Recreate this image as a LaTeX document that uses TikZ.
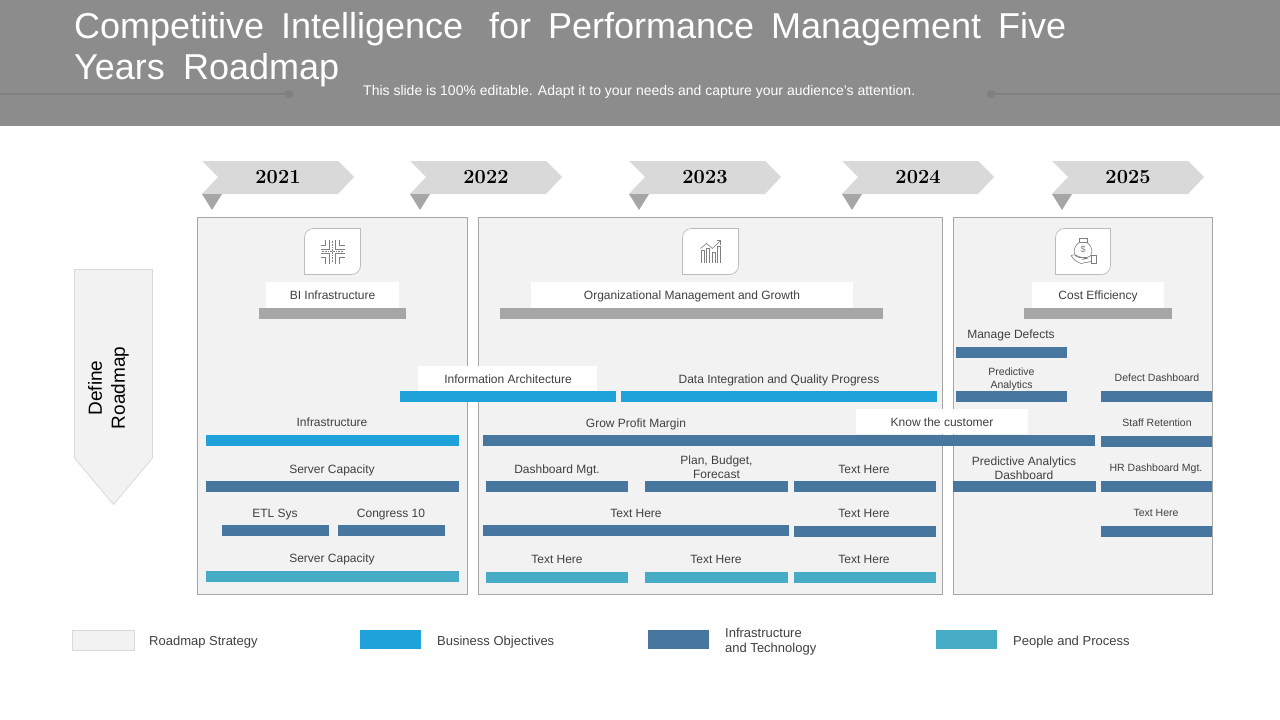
\documentclass[tikz,border=0pt]{standalone}
\usepackage{fontspec}
\setmainfont{Liberation Sans}
\definecolor{hdr}{HTML}{8C8C8C}
\definecolor{hline}{HTML}{808080}
\definecolor{panel}{HTML}{F2F2F2}
\definecolor{edge}{HTML}{A6A6A6}
\definecolor{chev}{HTML}{D9D9D9}
\definecolor{blue1}{HTML}{1FA2D9}
\definecolor{blue2}{HTML}{47769F}
\definecolor{teal1}{HTML}{46ABC4}
\definecolor{txt}{HTML}{404040}
\definecolor{ico}{HTML}{808080}
\tikzset{
  boxr/.style={rectangle,inner sep=0pt,outer sep=0pt},
  lab/.style={text=txt,font=\fontsize{12}{14}\selectfont,align=center,inner sep=0pt,yshift=-1.3pt,
    execute at begin node={\vphantom{Hg}},execute at end node={\vphantom{Hg}}},
  labs/.style={lab,font=\fontsize{10.5}{13}\selectfont,yshift=0.15pt},
  legendlab/.style={lab,font=\fontsize{13}{15}\selectfont,anchor=west,align=left},
  icoline/.style={draw=ico,line width=.6pt},
}
% name, fill, x1, x2, y1, y2, extra options
\newcommand{\rbox}[7]{\node[boxr,fill=#2,#7,minimum width={(#4-#3)*1pt},minimum height={(#6-#5)*1pt}] (#1) at ({(#3+#4)/2},{(#5+#6)/2}) {};}
% icon tile: name, x1, x2 (round diagonal corners)
\newcommand{\tile}[3]{%
  \draw[draw=edge!75,fill=white,line width=.7pt] (#2,274.5) [rounded corners=9pt] -- (#2,228.5) [sharp corners] -- (#3,228.5) [rounded corners=9pt] -- (#3,274.5) [sharp corners] -- cycle;
  \node[boxr,minimum width={(#3-#2)*1pt},minimum height=46pt] (#1) at ({(#2+#3)/2},251.5) {};}
\newcommand{\chevron}[2]{%
  \fill[chev] (#1,161) -- ++(136,0) -- ++(16,16) -- ++(-16,17) -- ++(-136,0) -- ++(16,-17) -- cycle;
  \fill[edge] (#1,194) -- ++(20,0) -- ++(-10,16) -- cycle;
  \node[inner sep=0pt] (y#2) at (#1+76,177) {\setmainfont{Latin Modern Roman}\bfseries\fontsize{20}{22}\selectfont #2};}
\begin{document}
\begin{tikzpicture}[x=1pt,y=-1pt]
\useasboundingbox (0,0) rectangle (1280,720);
\fill[white] (0,0) rectangle (1280,720);
% header
\rbox{head}{hdr}{0}{1280}{0}{126}{}
\draw[hline,line width=1.5pt] (0,94) -- (289,94);
\fill[hline] (289,94) circle (4);
\draw[hline,line width=1.5pt] (991,94) -- (1280,94);
\fill[hline] (991,94) circle (4);
\node[anchor=base west,inner sep=0pt,text=white,font=\fontsize{36}{40}\selectfont] (t1) at (74,38) {\makebox[992pt][s]{Competitive Intelligence\hspace{9pt} for Performance Management Five}};
\node[anchor=base west,inner sep=0pt,text=white,font=\fontsize{36}{40}\selectfont] (t2) at (74,79) {\makebox[265pt][s]{Years Roadmap}};
\node[anchor=west,inner sep=0pt,text=white,font=\fontsize{14}{16}\selectfont] (sub) at (363,91.5) {This slide is 100\% editable. Adapt it to your needs and capture your audience's attention.};
% chevrons
\chevron{202}{2021}
\chevron{410}{2022}
\chevron{629}{2023}
\chevron{842}{2024}
\chevron{1052}{2025}
% arrow
\draw[chev,fill=panel,line width=.8pt] (74.5,269.5) -- (152.5,269.5) -- (152.5,458) -- (113.5,504.5) -- (74.5,458) -- cycle;
\node[rotate=90,align=center,inner sep=0pt,text=black,font=\fontsize{19}{23}\selectfont] (def) at (108.5,388) {Define\\Roadmap};
% panels
\rbox{p1}{panel}{197}{467}{217.5}{594.5}{draw=edge,line width=.8pt}
\rbox{p2}{panel}{478}{942}{217.5}{594.5}{draw=edge,line width=.8pt}
\rbox{p3}{panel}{953}{1212}{217.5}{594.5}{draw=edge,line width=.8pt}
% icons
\tile{i1}{304.5}{360.5}
\tile{i2}{682.5}{738.5}
\tile{i3}{1055.5}{1110.5}
\begin{scope}[shift={(i1.center)},icoline]
  \foreach \sx/\sy in {1/1,1/-1,-1/1,-1/-1}{
    \draw (\sx*12,\sy*2) -- (\sx*3,\sy*2) -- (\sx*3,\sy*12);
    \draw (\sx*12,\sy*6) -- (\sx*7,\sy*6) -- (\sx*7,\sy*12);
  }
  \draw[densely dotted] (-11,0) -- (11,0);
  \draw[densely dotted] (0,-11) -- (0,11);
\end{scope}
\begin{scope}[shift={(i2.center)},icoline]
  \draw (-9,11) -- (-9,-1) -- (-6,-1) -- (-6,11);
  \draw (-4,11) -- (-4,-3) -- (-1,-3) -- (-1,11);
  \draw (2,11) -- (2,1) -- (5,1) -- (5,11);
  \draw (7,11) -- (7,-5) -- (10,-5) -- (10,11);
  \draw (-10,-3) -- (-4,-8) -- (2,-3) -- (10,-11);
  \draw (6,-11) -- (10,-11) -- (10,-7);
\end{scope}
\begin{scope}[shift={(i3.center)},icoline]
  \draw (-4,-13) rectangle (4,-9);
  \draw (-4,-9) .. controls (-11,-4) and (-10,6) .. (-4,6) -- (4,6) .. controls (10,6) and (11,-4) .. (4,-9);
  \node[text=ico,font=\fontsize{9}{9}\selectfont,inner sep=0pt] (dollar) at (0,-2) {\$};
  \draw (-12,4) .. controls (-8,2) and (-6,5) .. (-1,6) -- (4,7) -- (-1,8);
  \draw (-12,4) -- (-8,9) -- (-2,12) -- (8,10);
  \draw (8,4) rectangle (13,12);
\end{scope}
% section headers
\rbox{g1}{edge}{259}{406}{308}{319}{}
\rbox{g2}{edge}{500}{883}{308}{319}{}
\rbox{g3}{edge}{1024}{1172}{308}{319}{}
\rbox{w1}{white}{266}{399}{282}{308}{}
\rbox{w2}{white}{531}{853}{282}{308}{}
\rbox{w3}{white}{1032}{1164}{282}{308}{}
\node[lab] (lw1) at (332.5,295) {BI Infrastructure};
\node[lab] (lw2) at (692,295) {Organizational Management and Growth};
\node[lab] (lw3) at (1098,295) {Cost Efficiency};
% panel 1
\rbox{b1}{blue1}{206}{459}{435}{446}{}
\node[lab] (l1) at (332,422) {Infrastructure};
\rbox{b2}{blue2}{206}{459}{481}{492}{}
\node[lab] (l2) at (332,469) {Server Capacity};
\rbox{b3}{blue2}{222}{329}{525}{536}{}
\node[lab] (l3) at (275,513) {ETL Sys};
\rbox{b4}{blue2}{338}{445}{525}{536}{}
\node[lab] (l4) at (391,513) {Congress 10};
\rbox{b5}{teal1}{206}{459}{571}{582}{}
\node[lab] (l5) at (332,558) {Server Capacity};
% panel 2
\rbox{b6}{blue1}{400}{616}{391}{402}{}
\rbox{w4}{white}{418}{597}{366}{391}{}
\node[lab] (l6) at (508,379) {Information Architecture};
\rbox{b7}{blue1}{621}{937}{391}{402}{}
\node[lab] (l7) at (779,379) {Data Integration and Quality Progress};
\rbox{b8}{blue2}{483}{1095}{435}{446}{}
\node[lab] (l8) at (636,423) {Grow Profit Margin};
\rbox{w5}{white}{856}{1028}{409}{434}{}
\node[lab] (l9) at (942,422) {Know the customer};
\rbox{b9}{blue2}{486}{628}{481}{492}{}
\node[lab] (l10) at (557,469) {Dashboard Mgt.};
\rbox{b10}{blue2}{645}{788}{481}{492}{}
\node[lab] (l11) at (716.5,467.5) {Plan, Budget,\\Forecast};
\rbox{b11}{blue2}{794}{936}{481}{492}{}
\node[lab] (l12) at (864,469) {Text Here};
\rbox{b12}{blue2}{483}{789}{525}{536}{}
\node[lab] (l13) at (636,513) {Text Here};
\rbox{b13}{blue2}{794}{936}{526}{537}{}
\node[lab] (l14) at (864,513) {Text Here};
\rbox{b14}{teal1}{486}{628}{572}{583}{}
\node[lab] (l15) at (557,559) {Text Here};
\rbox{b15}{teal1}{645}{788}{572}{583}{}
\node[lab] (l16) at (716,559) {Text Here};
\rbox{b16}{teal1}{794}{936}{572}{583}{}
\node[lab] (l17) at (864,559) {Text Here};
% panel 3
\rbox{b17}{blue2}{956}{1067}{347}{358}{}
\node[lab] (l18) at (1011,334) {Manage Defects};
\rbox{b18}{blue2}{956}{1067}{391}{402}{}
\node[labs] (l19) at (1011.5,378) {Predictive\\Analytics};
\rbox{b19}{blue2}{1101}{1212}{391}{402}{}
\node[labs] (l20) at (1157,377.5) {Defect Dashboard};
\rbox{b20}{blue2}{1101}{1212}{436}{447}{}
\node[labs] (l21) at (1157,422.5) {Staff Retention};
\rbox{b21}{blue2}{953}{1096}{481}{492}{}
\node[lab] (l22) at (1024,468) {Predictive Analytics\\Dashboard};
\rbox{b22}{blue2}{1101}{1212}{481}{492}{}
\node[labs] (l23) at (1156,467.5) {HR Dashboard Mgt.};
\rbox{b23}{blue2}{1101}{1212}{526}{537}{}
\node[labs] (l24) at (1156,512.5) {Text Here};
% legend
\rbox{k1}{panel}{72}{134}{630}{650}{draw=chev,line width=.8pt}
\node[legendlab] (n1) at (149,640.5) {Roadmap Strategy};
\rbox{k2}{blue1}{360}{421}{630}{649}{}
\node[legendlab] (n2) at (437,640.5) {Business Objectives};
\rbox{k3}{blue2}{648}{709}{630}{649}{}
\node[legendlab] (n3) at (725,640.5) {Infrastructure\\and Technology};
\rbox{k4}{teal1}{936}{997}{630}{649}{}
\node[legendlab] (n4) at (1013,640.5) {People and Process};
\end{tikzpicture}
\end{document}
